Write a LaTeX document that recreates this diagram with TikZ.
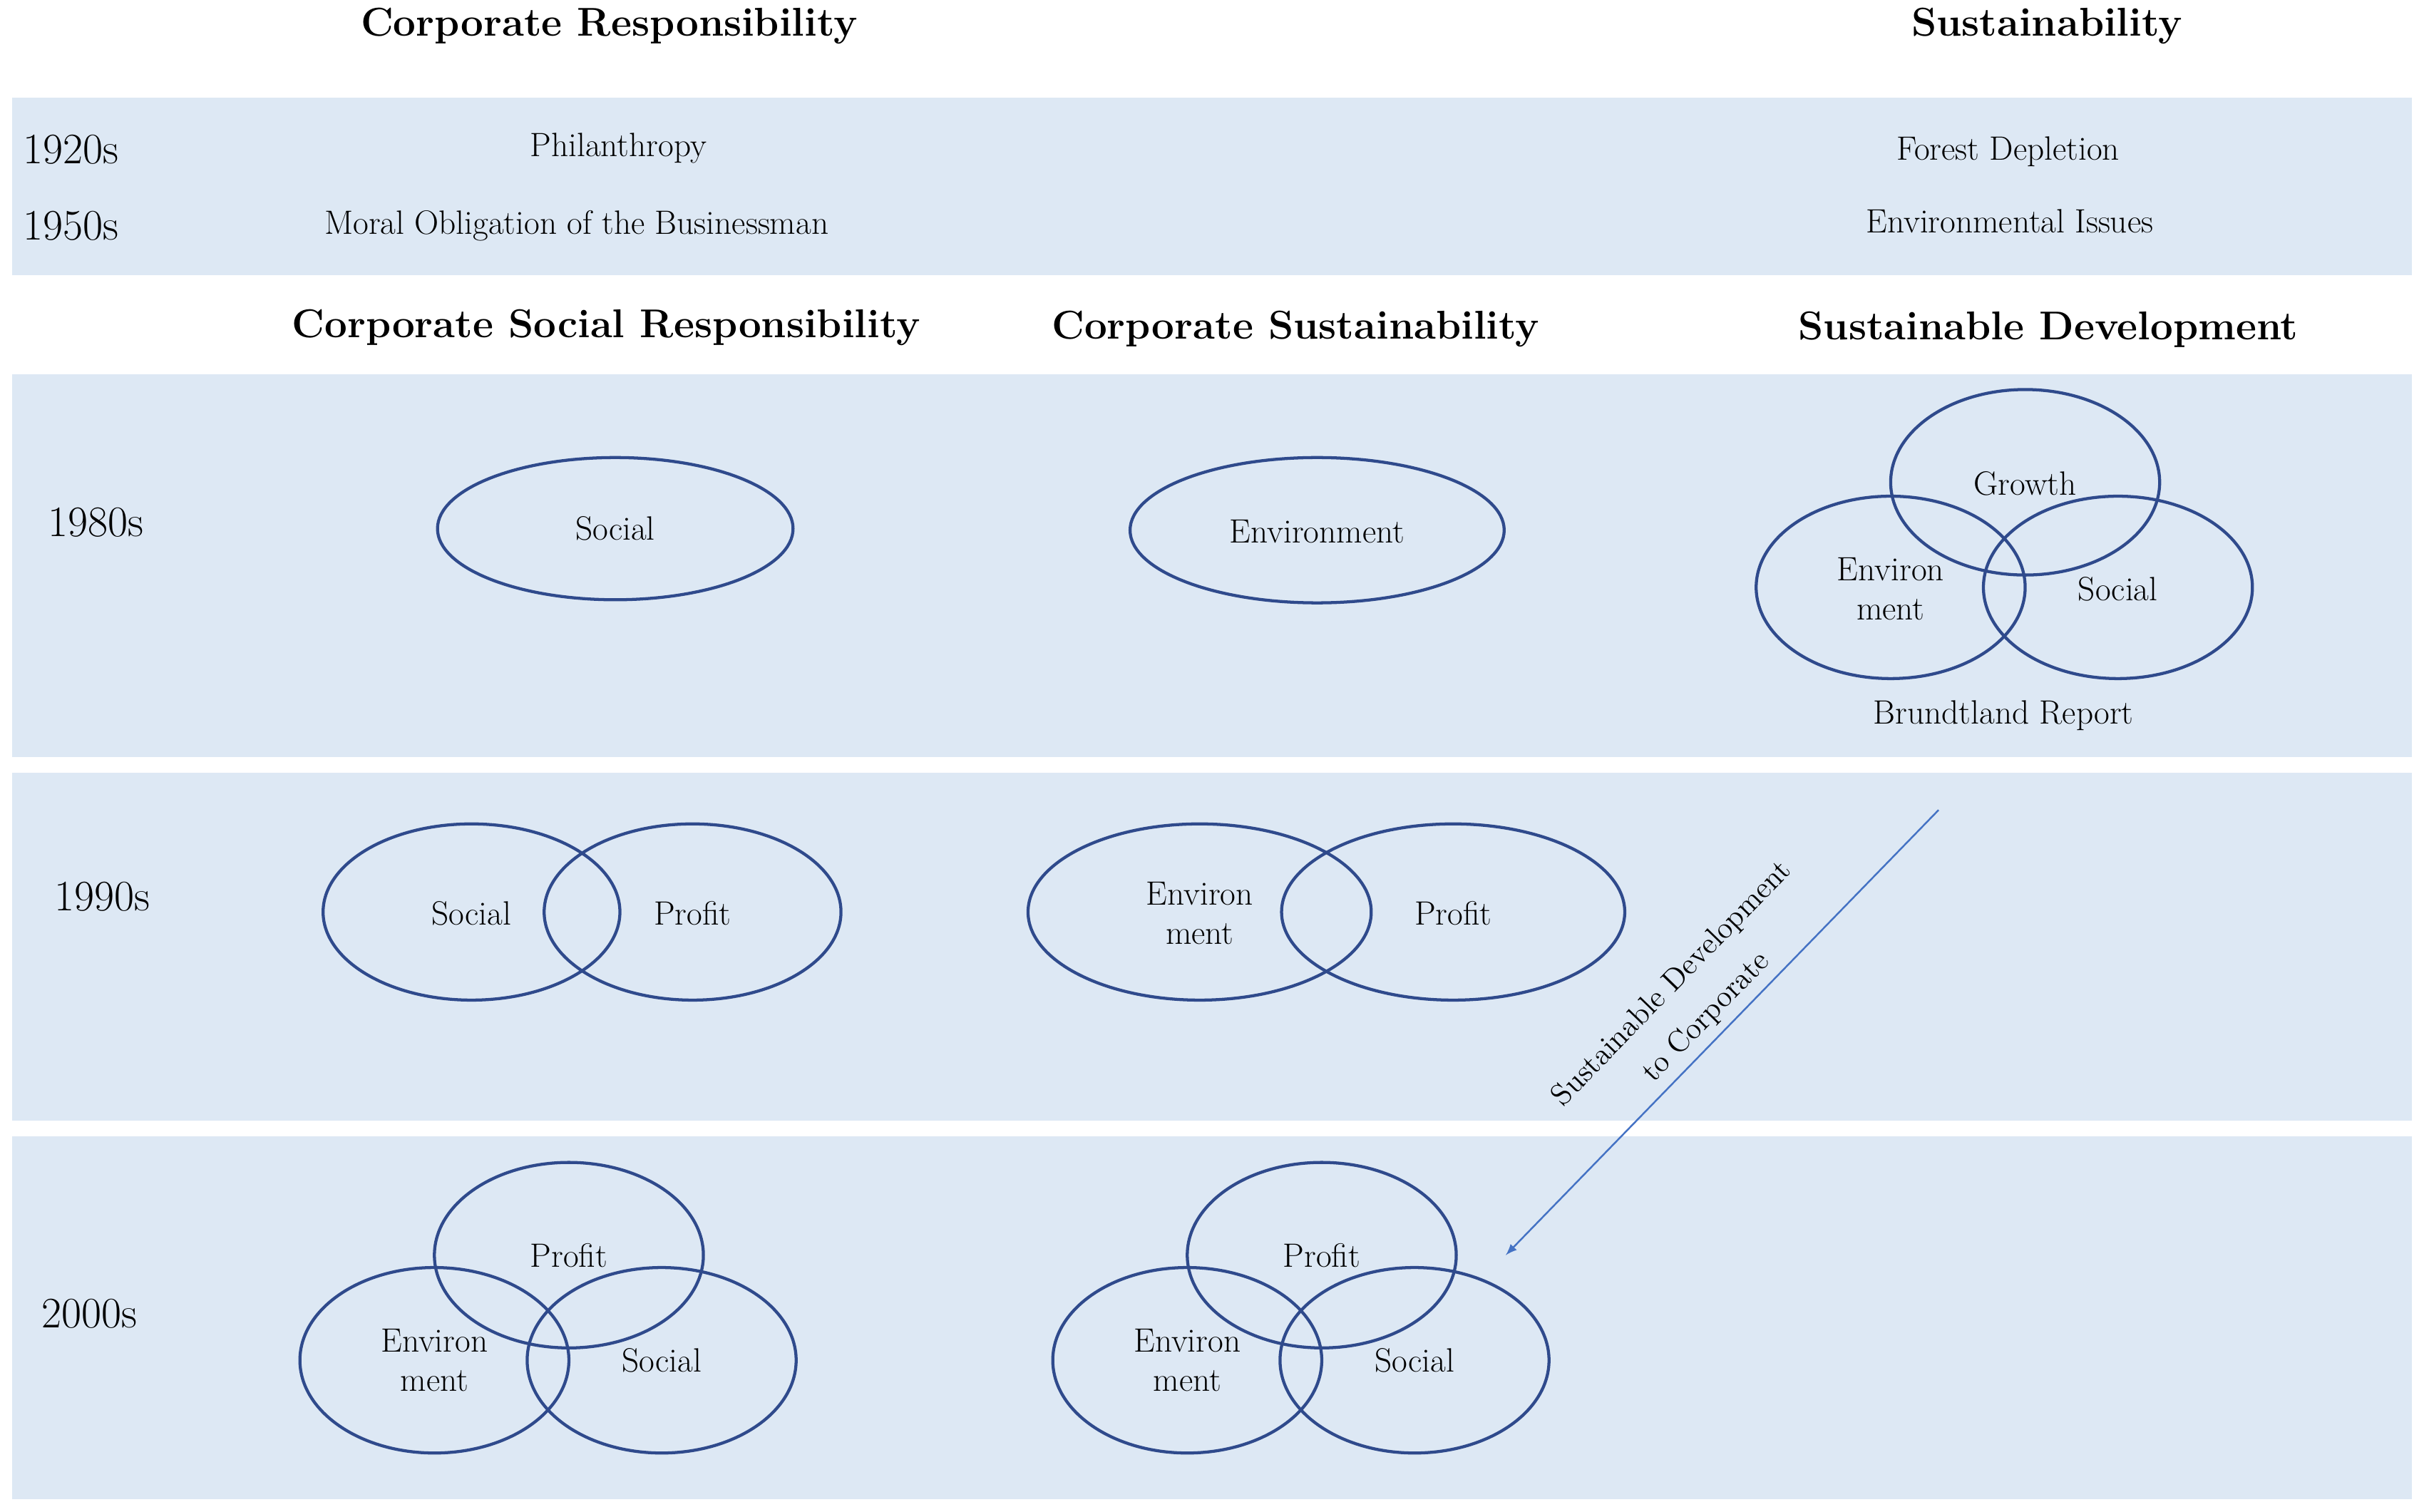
\documentclass[tikz,border=0pt]{standalone}
\begin{document}
\begin{tikzpicture}[x=0.025cm,y=-0.025cm,
  band/.style={fill=bandblue,draw=none},
  ell/.style={draw=ellblue,line width=1.4pt},
  ttl/.style={font=\fontsize{18.5}{22}\selectfont\bfseries},
  txt/.style={font=\fontsize{15.5}{18}\selectfont,align=center},
  yr/.style={font=\fontsize{20}{24}\selectfont}]
\definecolor{bandblue}{HTML}{DDE8F4}
\definecolor{ellblue}{HTML}{2F4A8C}
\definecolor{arrblue}{HTML}{4472C4}
\useasboundingbox (0,0) rectangle (1568,978);
\fill[bandblue] (8,63) rectangle (1560,178);
\fill[bandblue] (8,242) rectangle (1560,490);
\fill[bandblue] (8,500) rectangle (1560,725);
\fill[bandblue] (8,735) rectangle (1560,970);
% titles
\node[ttl] (t1) at (394,17) {Corporate Responsibility};
\node[ttl] (t2) at (1324,17) {Sustainability};
\node[ttl] (t3) at (392,212) {Corporate Social Responsibility};
\node[ttl] (t4) at (838,213) {Corporate Sustainability};
\node[ttl] (t5) at (1325,213) {Sustainable Development};
% years
\node[yr,anchor=west] (y1) at (10,97) {1920s};
\node[yr,anchor=west] (y2) at (10,146) {1950s};
\node[yr] (y3) at (62,338) {1980s};
\node[yr] (y4) at (66,580) {1990s};
\node[yr] (y5) at (58,850) {2000s};
% top band texts
\node[txt] (p1) at (400,96) {Philanthropy};
\node[txt] (p2) at (373,146) {Moral Obligation of the Businessman};
\node[txt] (p3) at (1299,98) {Forest Depletion};
\node[txt] (p4) at (1300,143) {Environmental Issues};
% 1980s
\draw[ell] (398,342) ellipse [x radius=115,y radius=46];
\node[txt] (s80) at (398,342) {Social};
\draw[ell] (852,343) ellipse [x radius=121,y radius=47];
\node[txt] (e80) at (852,344) {Environment};
\draw[ell] (1310,312) ellipse [x radius=87,y radius=60];
\draw[ell] (1223,380) ellipse [x radius=87,y radius=59];
\draw[ell] (1370,380) ellipse [x radius=87,y radius=59];
\node[txt] (g80) at (1310,313) {Growth};
\node[txt] (en80) at (1223,381) {Environ\\ment};
\node[txt] (so80) at (1370,381) {Social};
\node[txt] (br) at (1296,463) {Brundtland Report};
% 1990s
\draw[ell] (305,590) ellipse [x radius=96,y radius=57];
\draw[ell] (448,590) ellipse [x radius=96,y radius=57];
\node[txt] (s90) at (305,591) {Social};
\node[txt] (p90) at (448,591) {Profit};
\draw[ell] (776,590) ellipse [x radius=111,y radius=57];
\draw[ell] (940,590) ellipse [x radius=111,y radius=57];
\node[txt] (e90) at (776,591) {Environ\\ment};
\node[txt] (pp90) at (940,591) {Profit};
% 2000s
\foreach \cx/\nm in {281/a,768/b}{
  \draw[ell] (\cx+87,812) ellipse [x radius=87,y radius=60];
  \draw[ell] (\cx,880) ellipse [x radius=87,y radius=60];
  \draw[ell] (\cx+147,880) ellipse [x radius=87,y radius=60];
  \node[txt] (pr\nm) at (\cx+87,812) {Profit};
  \node[txt] (en\nm) at (\cx,880) {Environ\\ment};
  \node[txt] (so\nm) at (\cx+147,880) {Social};
}
% arrow
\coordinate (as) at (1254,524);
\coordinate (ae) at (974,812);
\draw[arrblue,line width=0.8pt,-latex] (as) -- (ae)
  node[midway,sloped,above,font=\fontsize{14}{22}\selectfont,align=center,text=black] (al) {Sustainable Development\\to Corporate};
\end{tikzpicture}
\end{document}
